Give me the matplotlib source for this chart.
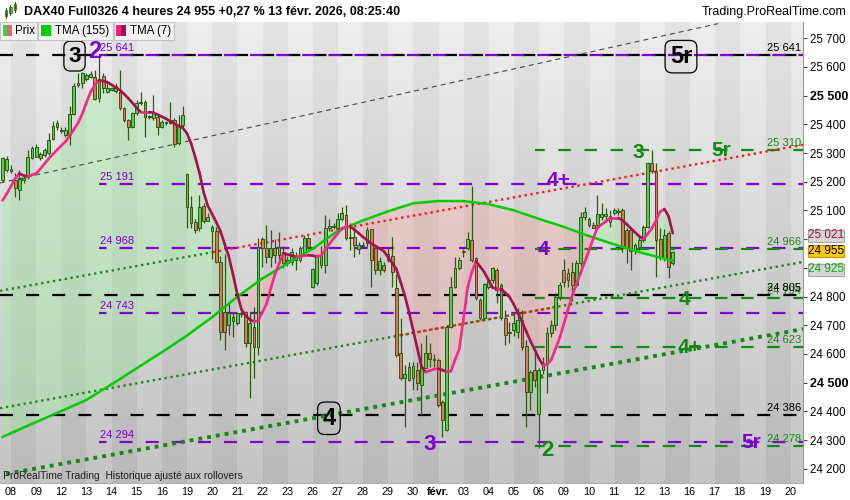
import numpy as np
import matplotlib
matplotlib.use("Agg")
import matplotlib.pyplot as plt
from matplotlib.collections import LineCollection
from matplotlib.patches import Rectangle
from matplotlib.transforms import Affine2D

plt.rcParams['font.family'] = ['Liberation Sans', 'DejaVu Sans']
plt.rcParams['lines.scale_dashes'] = False

W, H = 850, 500

# ---------------- data ----------------
day_labels = ['08', '09', '12', '13', '14', '15', '16', '19', '20', '21', '22', '23',
              '26', '27', '28', '29', '30', 'févr.', '03', '04', '05', '06', '09', '10',
              '11', '12', '13', '16', '17', '18', '19', '20']

# 4h candles, from 7 Jan (last two bars) to 13 Feb 08:00
opens = [25206, 25240,
         25245, 25206, 25171, 25205, 25218, 25282,
         25288, 25296, 25293, 25299, 25349, 25390,
         25376, 25363, 25363, 25436, 25537, 25543,
         25557, 25564, 25566, 25491, 25569, 25514,
         25520, 25517, 25514, 25456, 25415, 25390,
         25439, 25479, 25479, 25427, 25421, 25427,
         25392, 25404, 25406, 25415, 25334, 25398,
         25227, 25113, 25060, 25038, 25116, 25065,
         25027, 25030, 24922, 24745, 24700, 24730,
         24707, 24742, 24747, 24637, 24695, 24625,
         24999, 24968, 24937, 24968, 24945, 24957,
         24916, 24922, 24945, 24928, 24957, 25003,
         24835, 24846, 24945, 24910, 25038, 25046,
         25038, 25072, 25084, 25005, 25009, 24965,
         24975, 24985, 25034, 24968, 24893, 24910,
         24927, 24941, 24830, 24605, 24515, 24511,
         24558, 24545, 24493, 24550, 24605, 24578,
         24579, 24434, 24335, 24695, 24832, 24898,
         24960, 24968, 24997, 24933, 24788, 24724,
         24834, 24857, 24893, 24840, 24724, 24672,
         24684, 24675, 24718, 24628, 24469, 24544,
         24390, 24544, 24568, 24672, 24700, 24800,
         24893, 24858, 24887, 24840, 24916, 25076,
         25070, 25050, 25050, 25079, 25082, 25082,
         25090, 25098, 25100, 25032, 25032, 24962,
         24974, 24997, 25044, 25267, 25236, 25000,
         24935, 25020, 24916]
highs = [25288, 25290,
         25260, 25230, 25241, 25225, 25311, 25325,
         25330, 25305, 25318, 25369, 25413, 25415,
         25392, 25390, 25464, 25543, 25578, 25584,
         25580, 25585, 25589, 25638, 25578, 25543,
         25530, 25543, 25589, 25462, 25420, 25444,
         25485, 25514, 25485, 25432, 25502, 25433,
         25415, 25412, 25479, 25421, 25433, 25464,
         25230, 25150, 25070, 25154, 25125, 25090,
         25050, 25044, 24940, 24950, 24776, 24742,
         24747, 24750, 24750, 24742, 24765, 25003,
         25008, 25050, 25032, 24999, 25026, 24975,
         24940, 24968, 24957, 24975, 25015, 25010,
         24900, 24950, 24975, 25084, 25072, 25055,
         25090, 25113, 25119, 25055, 25038, 24990,
         24990, 25044, 25037, 24980, 24937, 24920,
         24968, 25009, 24880, 24725, 24560, 24573,
         24573, 24573, 24637, 24666, 24637, 24600,
         24585, 24440, 24700, 24869, 24939, 24939,
         24965, 25026, 25185, 24939, 24794, 24846,
         24863, 24904, 24898, 24846, 24753, 24712,
         24742, 24760, 24753, 24649, 24544, 24602,
         24550, 24590, 24695, 24718, 24811, 24851,
         24932, 24898, 24922, 24928, 25095, 25113,
         25078, 25060, 25154, 25125, 25107, 25102,
         25110, 25107, 25107, 25038, 25038, 24985,
         25009, 25050, 25270, 25310, 25264, 25038,
         25035, 25030, 24960]
lows = [25200, 25235,
        25230, 25148, 25137, 25195, 25208, 25278,
        25285, 25275, 25288, 25293, 25346, 25380,
        25370, 25357, 25328, 25433, 25530, 25526,
        25550, 25560, 25485, 25479, 25508, 25508,
        25515, 25511, 25450, 25409, 25346, 25386,
        25433, 25468, 25357, 25420, 25415, 25363,
        25388, 25398, 25400, 25322, 25328, 25392,
        25040, 25038, 25020, 25030, 25055, 25062,
        24930, 24916, 24648, 24614, 24665, 24660,
        24700, 24730, 24625, 24446, 24515, 24597,
        24904, 24916, 24904, 24916, 24916, 24900,
        24905, 24910, 24893, 24920, 24940, 24965,
        24830, 24840, 24900, 24881, 25030, 25035,
        25030, 25065, 24997, 24962, 24939, 24950,
        24968, 24974, 24834, 24880, 24875, 24885,
        24922, 24834, 24590, 24510, 24347, 24505,
        24475, 24475, 24388, 24550, 24556, 24555,
        24416, 24312, 24330, 24690, 24830, 24893,
        24939, 24962, 24922, 24788, 24718, 24718,
        24828, 24846, 24776, 24718, 24631, 24637,
        24661, 24655, 24614, 24347, 24405, 24486,
        24273, 24530, 24463, 24660, 24684, 24788,
        24835, 24835, 24783, 24835, 24905, 25067,
        25044, 25038, 25044, 25067, 25061, 25044,
        25085, 25085, 24956, 24916, 24893, 24950,
        24962, 24991, 25038, 25230, 24870, 24927,
        24925, 24864, 24910]
closes = [25282, 25280,
          25239, 25177, 25209, 25212, 25288, 25317,
          25322, 25282, 25311, 25346, 25394, 25406,
          25382, 25380, 25436, 25535, 25545, 25578,
          25572, 25574, 25487, 25555, 25526, 25528,
          25526, 25534, 25456, 25415, 25392, 25439,
          25476, 25473, 25425, 25425, 25441, 25390,
          25409, 25406, 25415, 25332, 25394, 25433,
          25113, 25055, 25032, 25113, 25065, 25077,
          25044, 24922, 24678, 24675, 24742, 24715,
          24742, 24740, 24637, 24707, 24625, 24974,
          24968, 24939, 24968, 24945, 24974, 24916,
          24928, 24957, 24928, 24968, 25003, 24974,
          24895, 24940, 24910, 25038, 25046, 25044,
          25072, 25090, 25003, 25004, 24980, 24980,
          24980, 25032, 24927, 24893, 24925, 24893,
          24950, 24887, 24597, 24515, 24530, 24555,
          24515, 24498, 24555, 24605, 24582, 24582,
          24422, 24370, 24695, 24834, 24898, 24927,
          24957, 24999, 24927, 24794, 24724, 24843,
          24857, 24898, 24823, 24724, 24666, 24678,
          24707, 24718, 24626, 24469, 24538, 24509,
          24544, 24568, 24672, 24700, 24800, 24840,
          24851, 24881, 24840, 24918, 25076, 25093,
          25049, 25040, 25088, 25088, 25088, 25061,
          25100, 25096, 24968, 24968, 24960, 24980,
          24997, 25044, 25267, 25236, 24997, 24933,
          25015, 24902, 24955]

tma7 = [25135, 25159,
        25185, 25212, 25229, 25222, 25218, 25224,
        25229, 25245, 25263, 25281, 25296, 25311,
        25326, 25340, 25360, 25382, 25405, 25436,
        25476, 25513, 25537, 25554, 25551, 25547,
        25538, 25529, 25520, 25506, 25491, 25475,
        25457, 25443, 25443, 25443, 25441, 25434,
        25427, 25420, 25411, 25402, 25395, 25388,
        25369, 25334, 25285, 25231, 25163, 25116,
        25088, 25059, 25028, 24984, 24940, 24878,
        24810, 24756, 24734, 24720, 24713, 24716,
        24745, 24774, 24827, 24876, 24915, 24951,
        24947, 24943, 24939, 24940, 24942, 24944,
        24943, 24940, 24942, 24963, 24983, 25002,
        25020, 25038, 25044, 25045, 25033, 25021,
        25008, 24997, 24985, 24976, 24968, 24958,
        24938, 24917, 24896, 24852, 24804, 24748,
        24684, 24620, 24556, 24537, 24542, 24547,
        24549, 24544, 24538, 24540, 24579, 24616,
        24718, 24830, 24884, 24923, 24905, 24885,
        24858, 24831, 24827, 24827, 24813, 24799,
        24774, 24744, 24713, 24679, 24646, 24616,
        24586, 24561, 24563, 24580, 24618, 24656,
        24705, 24755, 24804, 24844, 24882, 24921,
        24961, 25002, 25040, 25051, 25062, 25074,
        25074, 25074, 25066, 25052, 25038, 25024,
        25010, 25000, 25018, 25038, 25065, 25096,
        25105, 25080, 25021]

# TMA(155) at the first bar of each day (7 Jan .. 13 Feb), then at the last bar
tma155_daily = [24311, 24324, 24363, 24401, 24440, 24494, 24550, 24606, 24664, 24728,
                24799, 24863, 24915, 24966, 25029, 25065, 25097, 25125, 25133, 25133,
                25122, 25101, 25071, 25043, 25011, 24982, 24955, 24932]
tma155_last = 24925

purple_levels = [25641, 25191, 24968, 24743, 24294]
green_levels = [25310, 24966, 24794, 24623, 24278]
black_levels = [25641, 24805, 24386]

# trend lines: (day, price) anchors
grey_line = [(-0.44, 25196), (28.13, 25751)]
upper_line = [(-0.44, 24820), (31.53, 25329)]
mid_line = [(-0.44, 24411), (31.53, 24921)]
low_line = [(-0.44, 24178), (31.53, 24687)]

last_price = 24955
last_tma7 = 25021
last_tma155 = 24925

# ---------------- colours ----------------
PURPLE = '#8000cc'
GREEN = '#118c11'
UP = '#4fd04f'
DOWN = '#e47658'
EDGE = '#2f5a14'

# ---------------- figure ----------------
fig = plt.figure(figsize=(W / 100, H / 100), dpi=100, facecolor='white')
px = Affine2D().scale(1 / W, -1 / H).translate(0, 1) + fig.transFigure

top_px, bot_px, right_px = 21.7, 483.0, 803.3
ax = fig.add_axes([0, 1 - bot_px / H, right_px / W, (bot_px - top_px) / H])
x0, x1 = -0.4377, 31.528
y0, y1 = 24150.5, 25757.8
ax.set_xlim(x0, x1)
ax.set_ylim(y0, y1)

# striped, vertically shaded background (one column per day)
ndays = 34
t = np.linspace(0, 1, 200)[:, None]
light = 0.93 - 0.16 * t
dark = 0.89 - 0.165 * t
cols = np.where(np.arange(-1, ndays - 1) % 2 == 1, 1, 0)[None, :]
grey = np.where(cols == 1, light, dark)
bg = np.dstack([grey, grey, grey])
ax.imshow(bg, extent=[-1, ndays - 1, y0, y1], aspect='auto',
          interpolation='nearest', origin='upper', zorder=0)

n = len(closes)
xs = -1 + (4 + np.arange(n)) / 6.0
o = np.array(opens, float)
hi = np.array(highs, float)
lo = np.array(lows, float)
c = np.array(closes, float)
m7 = np.array(tma7, float)

t155_x = np.array([xs[0]] + list(range(len(tma155_daily) - 1)) + [xs[-1]], float)
t155_v = np.array(tma155_daily + [tma155_last], float)
m155 = np.interp(xs, t155_x, t155_v)

# fill between the two averages
ax.fill_between(xs, m7, m155, where=m7 >= m155, interpolate=True,
                color='#9ef09e', alpha=0.38, lw=0, zorder=1)
ax.fill_between(xs, m7, m155, where=m7 < m155, interpolate=True,
                color='#ff9a9a', alpha=0.30, lw=0, zorder=1)


def line_at(line, xa, xb):
    (ax_, pa), (bx_, pb) = line
    k = (pb - pa) / (bx_ - ax_)
    return [xa, xb], [pa + k * (xa - ax_), pa + k * (xb - ax_)]


# horizontal levels
dash = (0, (9.4, 9.4))
for lv in black_levels:
    ax.plot([x0, x1], [lv, lv], color='black', lw=1.6, linestyle=dash, zorder=2)
for lv in purple_levels:
    ax.plot([3.50, x1], [lv, lv], color=PURPLE, lw=1.6, linestyle=(4, (9.4, 9.4)), zorder=2)
for lv in green_levels:
    ax.plot([20.85, x1], [lv, lv], color=GREEN, lw=1.6, linestyle=(2, (9.0, 9.8)), zorder=2)

# trend lines
lx, ly = line_at(grey_line, x0, 28.13)
ax.plot(lx, ly, color='#4a4a4a', lw=0.8, linestyle=(0, (3.6, 2.9)), zorder=2)
fine = (0, (1.7, 2.6))
lx, ly = line_at(upper_line, x0, 8.04)
ax.plot(lx, ly, color='#1a8a1a', lw=1.7, linestyle=fine, zorder=2)
lx, ly = line_at(upper_line, 8.04, x1)
ax.plot(lx, ly, color='#ff1a1a', lw=1.7, linestyle=fine, zorder=2)
lx, ly = line_at(mid_line, x0, x1)
ax.plot(lx, ly, color='#1a8a1a', lw=1.7, linestyle=fine, zorder=2)
lx, ly = line_at(mid_line, 15.28, 21.65)
ax.plot(lx, ly, color='#ff1a1a', lw=1.7, linestyle=fine, zorder=2.1)
lx, ly = line_at(low_line, -0.2, x1)
ax.plot(lx, ly, color='#138a13', lw=2.8, linestyle=(0, (2.8, 3.6)), zorder=2)

# candles
ax.vlines(xs, lo, hi, color=EDGE, lw=0.9, zorder=3)
body_lo = np.minimum(o, c)
body_h = np.maximum(np.abs(c - o), 3)
ax.bar(xs, body_h, bottom=body_lo, width=0.11,
       color=np.where(c >= o, UP, DOWN), edgecolor=EDGE, linewidth=0.7, zorder=3.1)

# averages
ax.plot(t155_x, t155_v, color='#00cc00', lw=1.8, zorder=4)
pts = np.column_stack([xs, m7])
segs = np.stack([pts[:-1], pts[1:]], axis=1)
seg_cols = np.where(np.diff(m7) >= 0, '#f5288a', '#a3114f')
ax.add_collection(LineCollection(segs, colors=seg_cols, linewidths=1.9,
                                 capstyle='round', zorder=4.1))

# level labels
for lv in purple_levels:
    ax.annotate(f"{lv // 1000} {lv % 1000:03d}", (3.54, lv), xytext=(0, 1.5),
                textcoords='offset points', color=PURPLE, fontsize=8, va='bottom', zorder=5)
for lv in green_levels:
    ax.annotate(f"{lv // 1000} {lv % 1000:03d}", (30.08, lv), xytext=(0, 1.5),
                textcoords='offset points', color=GREEN, fontsize=8, va='bottom', zorder=5)
for lv in black_levels:
    ax.annotate(f"{lv // 1000} {lv % 1000:03d}", (30.08, lv), xytext=(0, 1.5),
                textcoords='offset points', color='black', fontsize=8, va='bottom', zorder=5)

# wave labels
boxed = dict(boxstyle='round,pad=0.2,rounding_size=0.3', fc='none', ec='black', lw=0.9)
big = dict(ha='center', va='center', fontweight='bold', zorder=6)
ax.text(2.527, 25638, '3', fontsize=16, color='black', bbox=boxed, **big)
ax.text(3.33, 25655, '2', fontsize=17, color=PURPLE, **big)
ax.text(26.66, 25636, '5r', fontsize=17, color='black', bbox=boxed, **big)
ax.text(28.28, 25310, '5r', fontsize=15, color=GREEN, **big)
ax.text(24.98, 25303, '3', fontsize=15, color=GREEN, **big)
ax.text(21.79, 25203, '4+', fontsize=15, color=PURPLE, **big)
ax.text(21.18, 24963, '4', fontsize=15, color=PURPLE, **big)
ax.text(26.78, 24791, '4', fontsize=15, color=GREEN, **big)
ax.text(27.02, 24621, '4+', fontsize=15, color=GREEN, **big)
ax.text(12.65, 24376, '4', fontsize=17, color='black', bbox=boxed, **big)
ax.text(16.66, 24283, '3', fontsize=16, color=PURPLE, **big)
ax.text(21.33, 24265, '2', fontsize=16, color=GREEN, **big)
ax.text(29.47, 24292, '5r', fontsize=15, color=PURPLE, **big)

# axes styling
for s in ('left', 'top'):
    ax.spines[s].set_visible(False)
ax.spines['right'].set_color('#9a9a9a')
ax.spines['bottom'].set_color('#b0b0b0')
ax.yaxis.tick_right()
yt = list(range(24200, 25701, 100))
hidden = (24900, 25000)  # covered by the value tags
ax.set_yticks(yt)
ax.set_yticklabels(['' if v in hidden else f"{v // 1000} {v % 1000:03d}" for v in yt],
                   fontsize=8.3)
for lab, v in zip(ax.get_yticklabels(), yt):
    if v % 1000 == 500:
        lab.set_fontweight('bold')
        lab.set_fontsize(9)
ax.tick_params(axis='y', length=3, width=0.8, color='#444444', pad=2)
ax.set_xticks(range(len(day_labels)))
ax.set_xticklabels(day_labels, fontsize=7.8)
for lab in ax.get_xticklabels():
    if lab.get_text() == 'févr.':
        lab.set_fontweight('bold')
ax.tick_params(axis='x', length=0, pad=3)

# ---------------- overlays in pixel coords ----------------
fig.text(24, 12, 'DAX40 Full0326 4 heures 24 955 +0,27 % 13 févr. 2026, 08:25:40',
         transform=px, fontsize=9, fontweight='bold', va='center', ha='left')
fig.text(846, 11.5, 'Trading.ProRealTime.com', transform=px, fontsize=9,
         va='center', ha='right')
# small candle icon
for cx, b0, b1, w0, w1 in [(6, 10, 16, 8, 18), (10.5, 7, 13, 5, 15), (15, 4, 10, 2, 12)]:
    fig.add_artist(plt.Line2D([cx, cx], [w0, w1], transform=px, color=EDGE, lw=0.7))
    fig.add_artist(Rectangle((cx - 1.3, b0), 2.6, b1 - b0, transform=px,
                             fc=UP, ec=EDGE, lw=0.5))

# legend bar
for xa, xb in [(0, 37), (38, 113), (114, 174)]:
    fig.add_artist(Rectangle((xa, 21.7), xb - xa, 18.3, transform=px,
                             fc='#f2f2f2', ec='#c4c4c4', lw=0.8))
fig.add_artist(Rectangle((3, 25), 4.5, 11, transform=px, fc='#4cc94c', ec='none'))
fig.add_artist(Rectangle((7.5, 25), 4.5, 11, transform=px, fc='#e06868', ec='none'))
fig.add_artist(Rectangle((41, 25), 10, 11, transform=px, fc='#00cc00', ec='none'))
fig.add_artist(Rectangle((116, 25), 5, 11, transform=px, fc='#f0207f', ec='none'))
fig.add_artist(Rectangle((121, 25), 5, 11, transform=px, fc='#a0104a', ec='none'))
fig.text(15, 31, 'Prix', transform=px, fontsize=8.3, va='center')
fig.text(55, 31, 'TMA (155)', transform=px, fontsize=8.3, va='center')
fig.text(130, 31, 'TMA (7)', transform=px, fontsize=8.3, va='center')

fig.text(3, 476, 'ProRealTime Trading  Historique ajusté aux rollovers', transform=px,
         fontsize=7.4, va='center', color='#222222')

# last-value tags on the price scale
tags = [(235.5, last_tma7, '#a0104a', '#d6d6d6', '#a8a8a8'),
        (251.0, last_price, 'black', '#ffc800', '#c89600'),
        (269.5, last_tma155, '#00b000', '#d6d6d6', '#a8a8a8')]
for cy, val, tc, fc, ec in tags:
    fig.add_artist(Rectangle((808, cy - 6), 36, 12, transform=px, fc=fc, ec=ec, lw=0.8))
    fig.text(826, cy, f"{val // 1000} {val % 1000:03d}", transform=px, fontsize=8.5,
             color=tc, ha='center', va='center')

fig.savefig('out.png', dpi=100, facecolor='white')
